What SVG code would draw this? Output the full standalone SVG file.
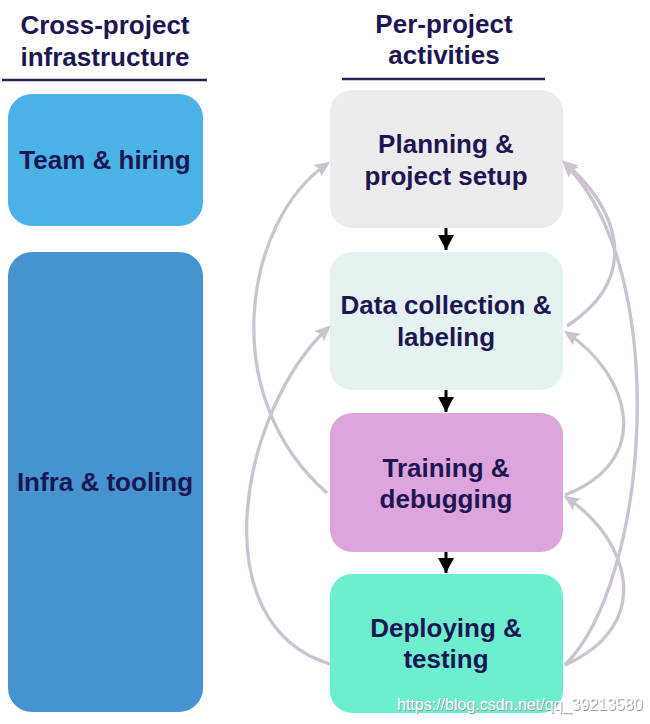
<svg xmlns="http://www.w3.org/2000/svg" width="650" height="724" viewBox="0 0 650 724">
<style>
.hd{font-family:"Liberation Sans",Arial,sans-serif;font-weight:bold;font-size:26px;fill:#1D1653;text-anchor:middle}
.lb{font-family:"Liberation Sans",Arial,sans-serif;font-weight:bold;font-size:26px;fill:#1D1653;text-anchor:middle}
.ul{stroke:#2B2255;stroke-width:2.5}
.fb{fill:none;stroke:#CCC3D1;stroke-width:3.3}
.dn{stroke:#000;stroke-width:3}
.wm{font-family:"Liberation Sans",Arial,sans-serif;font-size:16px}
</style>
<defs>
<marker id="ga" markerUnits="userSpaceOnUse" markerWidth="18" markerHeight="16" refX="12" refY="7" orient="auto">
<path d="M0,0 L16,7 L0,14 L3,7 z" fill="#CCC3D1"/>
</marker>
<marker id="ba" markerUnits="userSpaceOnUse" markerWidth="18" markerHeight="18" refX="15" refY="8" orient="auto">
<path d="M0,0 L15,8 L0,16 z" fill="#000"/>
</marker>
</defs>
<rect width="650" height="724" fill="#fff"/>
<g id="header-left">
<text class="hd" x="105" y="34">Cross-project</text>
<text class="hd" x="105" y="66">infrastructure</text>
<line class="ul" x1="2" y1="80" x2="207" y2="80"/>
</g>
<g id="header-right">
<text class="hd" x="444" y="33">Per-project</text>
<text class="hd" x="444" y="64">activities</text>
<line class="ul" x1="342" y1="79" x2="545" y2="79"/>
</g>
<g id="team">
<rect x="8" y="94" width="195" height="132" rx="24" fill="#4BB2E7"/>
<text class="lb" x="105" y="169">Team &amp; hiring</text>
</g>
<g id="infra">
<rect x="8" y="252" width="195" height="460" rx="24" fill="#4594D0"/>
<text class="lb" x="105" y="491">Infra &amp; tooling</text>
</g>
<g id="planning">
<rect x="330" y="90" width="233" height="138" rx="22" fill="#ECEBEE"/>
<text class="lb" x="446" y="153">Planning &amp;</text>
<text class="lb" x="446" y="185">project setup</text>
</g>
<g id="data">
<rect x="330" y="252" width="233" height="138" rx="22" fill="#E5F2F2"/>
<text class="lb" x="446" y="314">Data collection &amp;</text>
<text class="lb" x="446" y="346">labeling</text>
</g>
<g id="training">
<rect x="330" y="413" width="233" height="139" rx="22" fill="#DDA4DE"/>
<text class="lb" x="446" y="477">Training &amp;</text>
<text class="lb" x="446" y="508">debugging</text>
</g>
<g id="deploying">
<rect x="330" y="574" width="233" height="139" rx="22" fill="#6DEFCF"/>
<text class="lb" x="446" y="637">Deploying &amp;</text>
<text class="lb" x="446" y="668">testing</text>
</g>
<g id="connectors">
<line class="dn" x1="446" y1="228" x2="446" y2="250" marker-end="url(#ba)"/>
<line class="dn" x1="446" y1="390" x2="446" y2="412" marker-end="url(#ba)"/>
<line class="dn" x1="446" y1="552" x2="446" y2="573" marker-end="url(#ba)"/>
<path class="fb" d="M327,493 C215,395 245,220 327,164" marker-end="url(#ga)"/>
<path class="fb" d="M330,664 C200,625 240,410 328,328" marker-end="url(#ga)"/>
<path class="fb" d="M567,326 C645,275 615,205 565,163" marker-end="url(#ga)"/>
<path class="fb" d="M565,495 C655,460 630,375 567,333" marker-end="url(#ga)"/>
<path class="fb" d="M565,665 C655,625 630,540 567,498" marker-end="url(#ga)"/>
<path class="fb" d="M565,665 C650,580 672,270 565,164" marker-end="url(#ga)"/>
</g>
<g id="watermark">
<text class="wm" x="398" y="711" fill="#9a9a9a">https://blog.csdn.net/qq_39213580</text>
<text class="wm" x="397" y="710" fill="#fff">https://blog.csdn.net/qq_39213580</text>
</g>
</svg>
